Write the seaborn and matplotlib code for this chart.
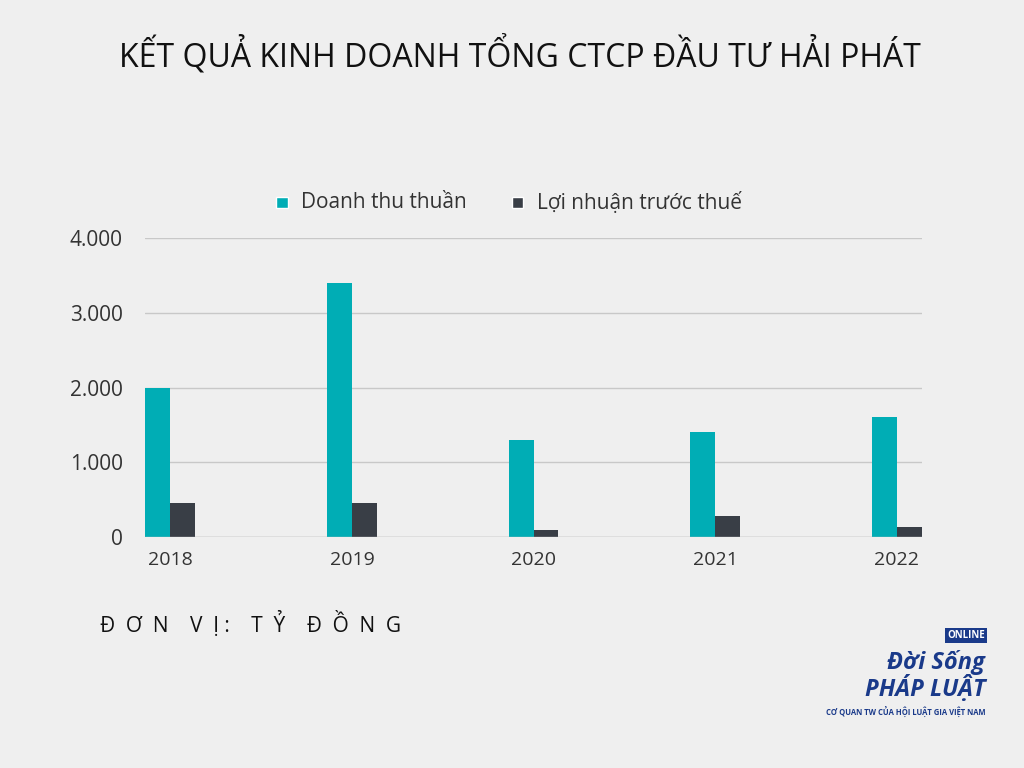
import matplotlib
matplotlib.use("Agg")
import matplotlib.pyplot as plt
import seaborn as sns
import pandas as pd

years = ["2018", "2019", "2020", "2021", "2022"]
revenue = [2000, 3400, 1300, 1400, 1600]
profit = [450, 450, 90, 280, 140]
series = ["Doanh thu thuần", "Lợi nhuận trước thuế"]
yticks = [0, 1000, 2000, 3000, 4000]
ylabels = ["0", "1.000", "2.000", "3.000", "4.000"]

df = pd.DataFrame({
    "year": years * 2,
    "value": revenue + profit,
    "series": [series[0]] * 5 + [series[1]] * 5,
})

sns.set_style("white")
plt.rcParams["font.family"] = ["Open Sans", "DejaVu Sans"]
bg = "#efefef"
fig = plt.figure(figsize=(10.24, 7.68), dpi=100, facecolor=bg)
ax = fig.add_axes([0.1416, 0.3008, 0.7588, 0.389], facecolor=bg)
sns.barplot(data=df, x="year", y="value", hue="series", ax=ax,
            palette=["#00adb5", "#393e46"], width=0.275, gap=0, legend=False,
            saturation=1, edgecolor="none", linewidth=0)
ax.set_xlim(-0.14, 4.14)
ax.set_ylim(0, 4000)
ax.set_yticks(yticks)
ax.set_yticklabels(ylabels)
ax.yaxis.grid(True, color="#c8c8c8", lw=1)
ax.set_axisbelow(True)
for s in ax.spines.values():
    s.set_visible(False)
ax.axhline(0, color="#bdbdbd", lw=1)
ax.tick_params(axis="y", length=0, labelsize=15, colors="#333333", pad=16)
ax.tick_params(axis="x", length=0, labelsize=14, colors="#333333", pad=10)
ax.set_xlabel("")
ax.set_ylabel("")

fig.text(0.508, 0.928, "KẾT QUẢ KINH DOANH TỔNG CTCP ĐẦU TƯ HẢI PHÁT",
         ha="center", va="center", fontsize=23, color="#111111")
from matplotlib.patches import Rectangle
for x, lab, c in [(0.27, series[0], "#00adb5"), (0.50, series[1], "#393e46")]:
    fig.patches.append(Rectangle((x, 0.729), 0.011, 0.014, transform=fig.transFigure,
                                 facecolor=c, figure=fig))
    fig.text(x + 0.024, 0.736, lab, ha="left", va="center", fontsize=15, color="#333333")
fig.text(0.098, 0.188, "Đ  Ơ  N    V  Ị :    T  Ỷ    Đ  Ồ  N  G", ha="left", va="center",
         fontsize=15, color="#111111")
fig.text(0.962, 0.173, "ONLINE", ha="right", va="center", fontsize=7, color="white",
         fontweight="bold", bbox=dict(facecolor="#1a3a8a", edgecolor="none", pad=1.5))
fig.text(0.962, 0.137, "Đời Sống", ha="right", va="center", fontsize=17, color="#1a3a8a",
         fontweight="bold", style="italic")
fig.text(0.962, 0.103, "PHÁP LUẬT", ha="right", va="center", fontsize=17, color="#1a3a8a",
         fontweight="bold", style="italic")
fig.text(0.962, 0.072, "CƠ QUAN TW CỦA HỘI LUẬT GIA VIỆT NAM", ha="right", va="center",
         fontsize=5.5, color="#1a3a8a", fontweight="bold")
fig.savefig("out.png", dpi=100, facecolor=bg)
